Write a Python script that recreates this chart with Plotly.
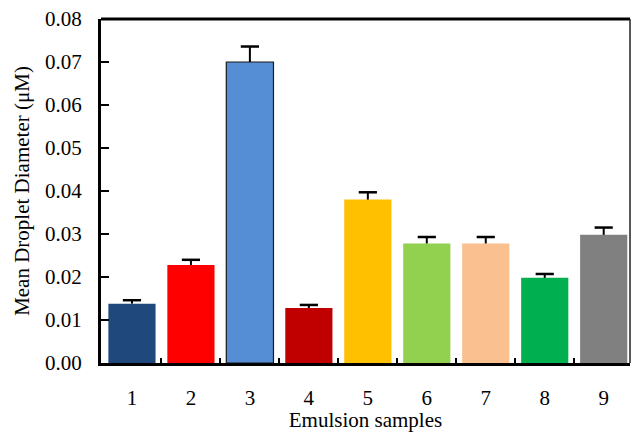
import plotly.graph_objects as go

samples = [1, 2, 3, 4, 5, 6, 7, 8, 9]
tick_labels = ["1", "2", "3", "4", "5", "6", "7", "8", "9"]
diameters = [0.0138, 0.0228, 0.0700, 0.0128, 0.0380, 0.0278, 0.0278, 0.0198, 0.0298]
errors = [0.0008, 0.0012, 0.0036, 0.0007, 0.0017, 0.0015, 0.0015, 0.0009, 0.0017]
colors = ["#1F497D", "#FF0000", "#558ED5", "#C00000", "#FFC000",
          "#92D050", "#FAC090", "#00B050", "#808080"]
outlines = ["rgba(0,0,0,0)", "rgba(0,0,0,0)", "#1a1a1a", "rgba(0,0,0,0)", "rgba(0,0,0,0)",
            "rgba(0,0,0,0)", "rgba(0,0,0,0)", "rgba(0,0,0,0)", "rgba(0,0,0,0)"]
y_ticks = [0.00, 0.01, 0.02, 0.03, 0.04, 0.05, 0.06, 0.07, 0.08]

font = "Liberation Serif"

fig = go.Figure()
fig.add_trace(go.Bar(
    x=samples, y=diameters,
    marker=dict(color=colors, line=dict(color=outlines, width=1.2)),
    width=0.8,
))

# upward-only error bars (stem + top cap)
ex, ey = [], []
for xv, v, e in zip(samples, diameters, errors):
    ex += [xv, xv, None]
    ey += [v, v + e, None]
fig.add_trace(go.Scatter(x=ex, y=ey, mode="lines",
                         line=dict(color="black", width=2), hoverinfo="skip"))
fig.add_trace(go.Scatter(x=samples, y=[v + e for v, e in zip(diameters, errors)],
                         mode="markers",
                         marker=dict(symbol="line-ew", size=13,
                                     line=dict(color="black", width=2.5)),
                         hoverinfo="skip"))

fig.update_layout(
    width=632, height=432,
    margin=dict(l=101, r=2, t=19, b=69),
    paper_bgcolor="white", plot_bgcolor="white",
    showlegend=False,
    font=dict(family=font, color="black", size=21),
    xaxis=dict(
        range=[0.475, 9.446],
        tickvals=samples, ticktext=tick_labels,
        ticks="", ticklabelstandoff=14,
        showline=True, linecolor="black", linewidth=3,
        showgrid=False, zeroline=False, automargin=False,
        tickfont=dict(family=font, size=21),
        title=dict(text="Emulsion samples", font=dict(family=font, size=21), standoff=6),
        minor=dict(tickvals=[1.5, 2.5, 3.5, 4.5, 5.5, 6.5, 7.5, 8.5],
                   ticks="inside", ticklen=5, tickwidth=2, tickcolor="black"),
    ),
    yaxis=dict(
        range=[0, 0.08],
        tickvals=y_ticks, ticktext=[f"{v:.2f}" for v in y_ticks],
        ticks="inside", ticklen=8, tickwidth=1.5, tickcolor="black",
        ticklabelstandoff=12,
        showline=True, linecolor="black", linewidth=3,
        showgrid=False, zeroline=False, automargin=False,
        tickfont=dict(family=font, size=21),
        title=dict(text="Mean Droplet Diameter (μM)", font=dict(family=font, size=21), standoff=10),
    ),
    shapes=[
        dict(type="line", xref="paper", yref="paper", x0=0, x1=1, y0=1, y1=1,
             line=dict(color="black", width=3)),
        dict(type="line", xref="paper", yref="paper", x0=1, x1=1, y0=0, y1=1,
             line=dict(color="#222", width=1.5)),
    ],
)

fig.write_html("out.html", config={"displayModeBar": False},
               post_script="document.body.style.margin='0';")
